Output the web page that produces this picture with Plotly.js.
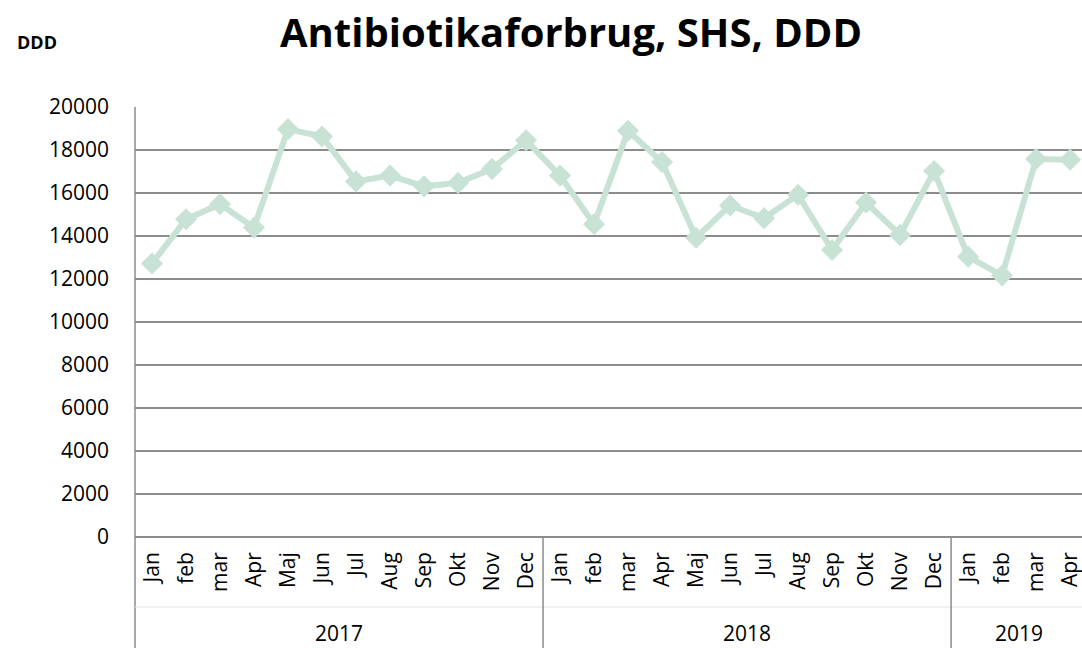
<!DOCTYPE html>
<html>
<head>
<meta charset="utf-8">
<script src="https://cdn.plot.ly/plotly-3.0.1.min.js"></script>
<style>
  html, body { margin: 0; padding: 0; background: #fff; }
  #chart { width: 1082px; height: 648px; }
</style>
</head>
<body>
<div id="chart"></div>
<script>
// months per year, as in the sheet
var years = ['2017', '2018', '2019'];
var months2017 = ['Jan', 'feb', 'mar', 'Apr', 'Maj', 'Jun', 'Jul', 'Aug', 'Sep', 'Okt', 'Nov', 'Dec'];
var months2018 = ['Jan', 'feb', 'mar', 'Apr', 'Maj', 'Jun', 'Jul', 'Aug', 'Sep', 'Okt', 'Nov', 'Dec'];
var months2019 = ['Jan', 'feb', 'mar', 'Apr'];

// DDD per month
var ddd2017 = [12720, 14780, 15480, 14390, 18970, 18630, 16540, 16810, 16310, 16470, 17120, 18450];
var ddd2018 = [16810, 14550, 18890, 17440, 13920, 15420, 14830, 15920, 13350, 15560, 14050, 17020];
var ddd2019 = [13040, 12160, 17580, 17550];

var monthGroups = [months2017, months2018, months2019];
var dddGroups = [ddd2017, ddd2018, ddd2019];

var lineColor = '#c8e3d5';
var gridColor = '#8c8c8c';
var fontFam = '"Open Sans", "DejaVu Sans", sans-serif';

var xIdx = [], ticktext = [], yVals = [];
monthGroups.forEach(function (ms, g) {
    ms.forEach(function (m, k) {
        xIdx.push(xIdx.length);
        ticktext.push(m);
        yVals.push(dddGroups[g][k]);
    });
});

// x range cut at the right edge like in the original
var xr = [-0.5, 27.35];
function px(v) { return (v - xr[0]) / (xr[1] - xr[0]); }

var bottomY = -111 / 430;

var shapes = [
    // left border going down through the labels
    { type: 'line', xref: 'paper', yref: 'paper', x0: 0, x1: 0, y0: bottomY, y1: 1,
      line: { color: gridColor, width: 1.5 } },
    // faint line between month and year rows
    { type: 'line', xref: 'paper', yref: 'paper', x0: 0, x1: 1, y0: -70 / 430, y1: -70 / 430,
      line: { color: '#e3e3e3', width: 1 } }
];
var annotations = [];
var start = 0;
monthGroups.forEach(function (ms, g) {
    var end = start + ms.length;
    if (g < monthGroups.length - 1) {
        shapes.push({ type: 'line', xref: 'paper', yref: 'paper',
            x0: px(end - 0.5), x1: px(end - 0.5), y0: bottomY, y1: 0,
            line: { color: gridColor, width: 1.5 } });
    }
    annotations.push({
        x: (start + end - 1) / 2, xref: 'x',
        y: -96 / 430, yref: 'paper',
        text: years[g], showarrow: false,
        xanchor: 'center', yanchor: 'middle',
        font: { family: fontFam, size: 21, color: '#000' }
    });
    start = end;
});

annotations.push({
    x: -120 / 947, xref: 'paper', xanchor: 'left',
    y: 1 + 65 / 430, yref: 'paper', yanchor: 'middle',
    text: '<b>DDD</b>', showarrow: false,
    font: { family: fontFam, size: 18, color: '#000' }
});

var trace = {
    x: xIdx,
    y: yVals,
    mode: 'lines+markers',
    type: 'scatter',
    line: { color: lineColor, width: 6 },
    marker: { symbol: 'diamond', size: 17, color: lineColor },
    cliponaxis: false,
    hoverinfo: 'y'
};

var layout = {
    width: 1082,
    height: 648,
    margin: { l: 135, r: 0, t: 107, b: 111 },
    paper_bgcolor: '#fff',
    plot_bgcolor: '#fff',
    showlegend: false,
    title: {
        text: '<b>Antibiotikaforbrug, SHS, DDD</b>',
        x: 571 / 1082, xanchor: 'center',
        y: 1 - 33 / 648, yanchor: 'middle',
        font: { family: fontFam, size: 40, color: '#000' }
    },
    xaxis: {
        range: xr,
        tickvals: xIdx,
        ticktext: ticktext,
        tickangle: -90,
        showgrid: false,
        zeroline: false,
        showline: false,
        ticks: '',
        ticklabelstandoff: 10,
        ticklabeloverflow: 'allow',
        tickfont: { family: fontFam, size: 21, color: '#000' }
    },
    yaxis: {
        range: [0, 20000],
        dtick: 2000,
        tickformat: 'd',
        showgrid: true,
        gridcolor: gridColor,
        gridwidth: 1.5,
        zeroline: true,
        zerolinecolor: gridColor,
        zerolinewidth: 1.5,
        showline: false,
        ticks: '',
        ticklabelstandoff: 25,
        tickfont: { family: fontFam, size: 21, color: '#000' }
    },
    shapes: shapes,
    annotations: annotations
};

Plotly.newPlot('chart', [trace], layout, { displayModeBar: false });
</script>
</body>
</html>
